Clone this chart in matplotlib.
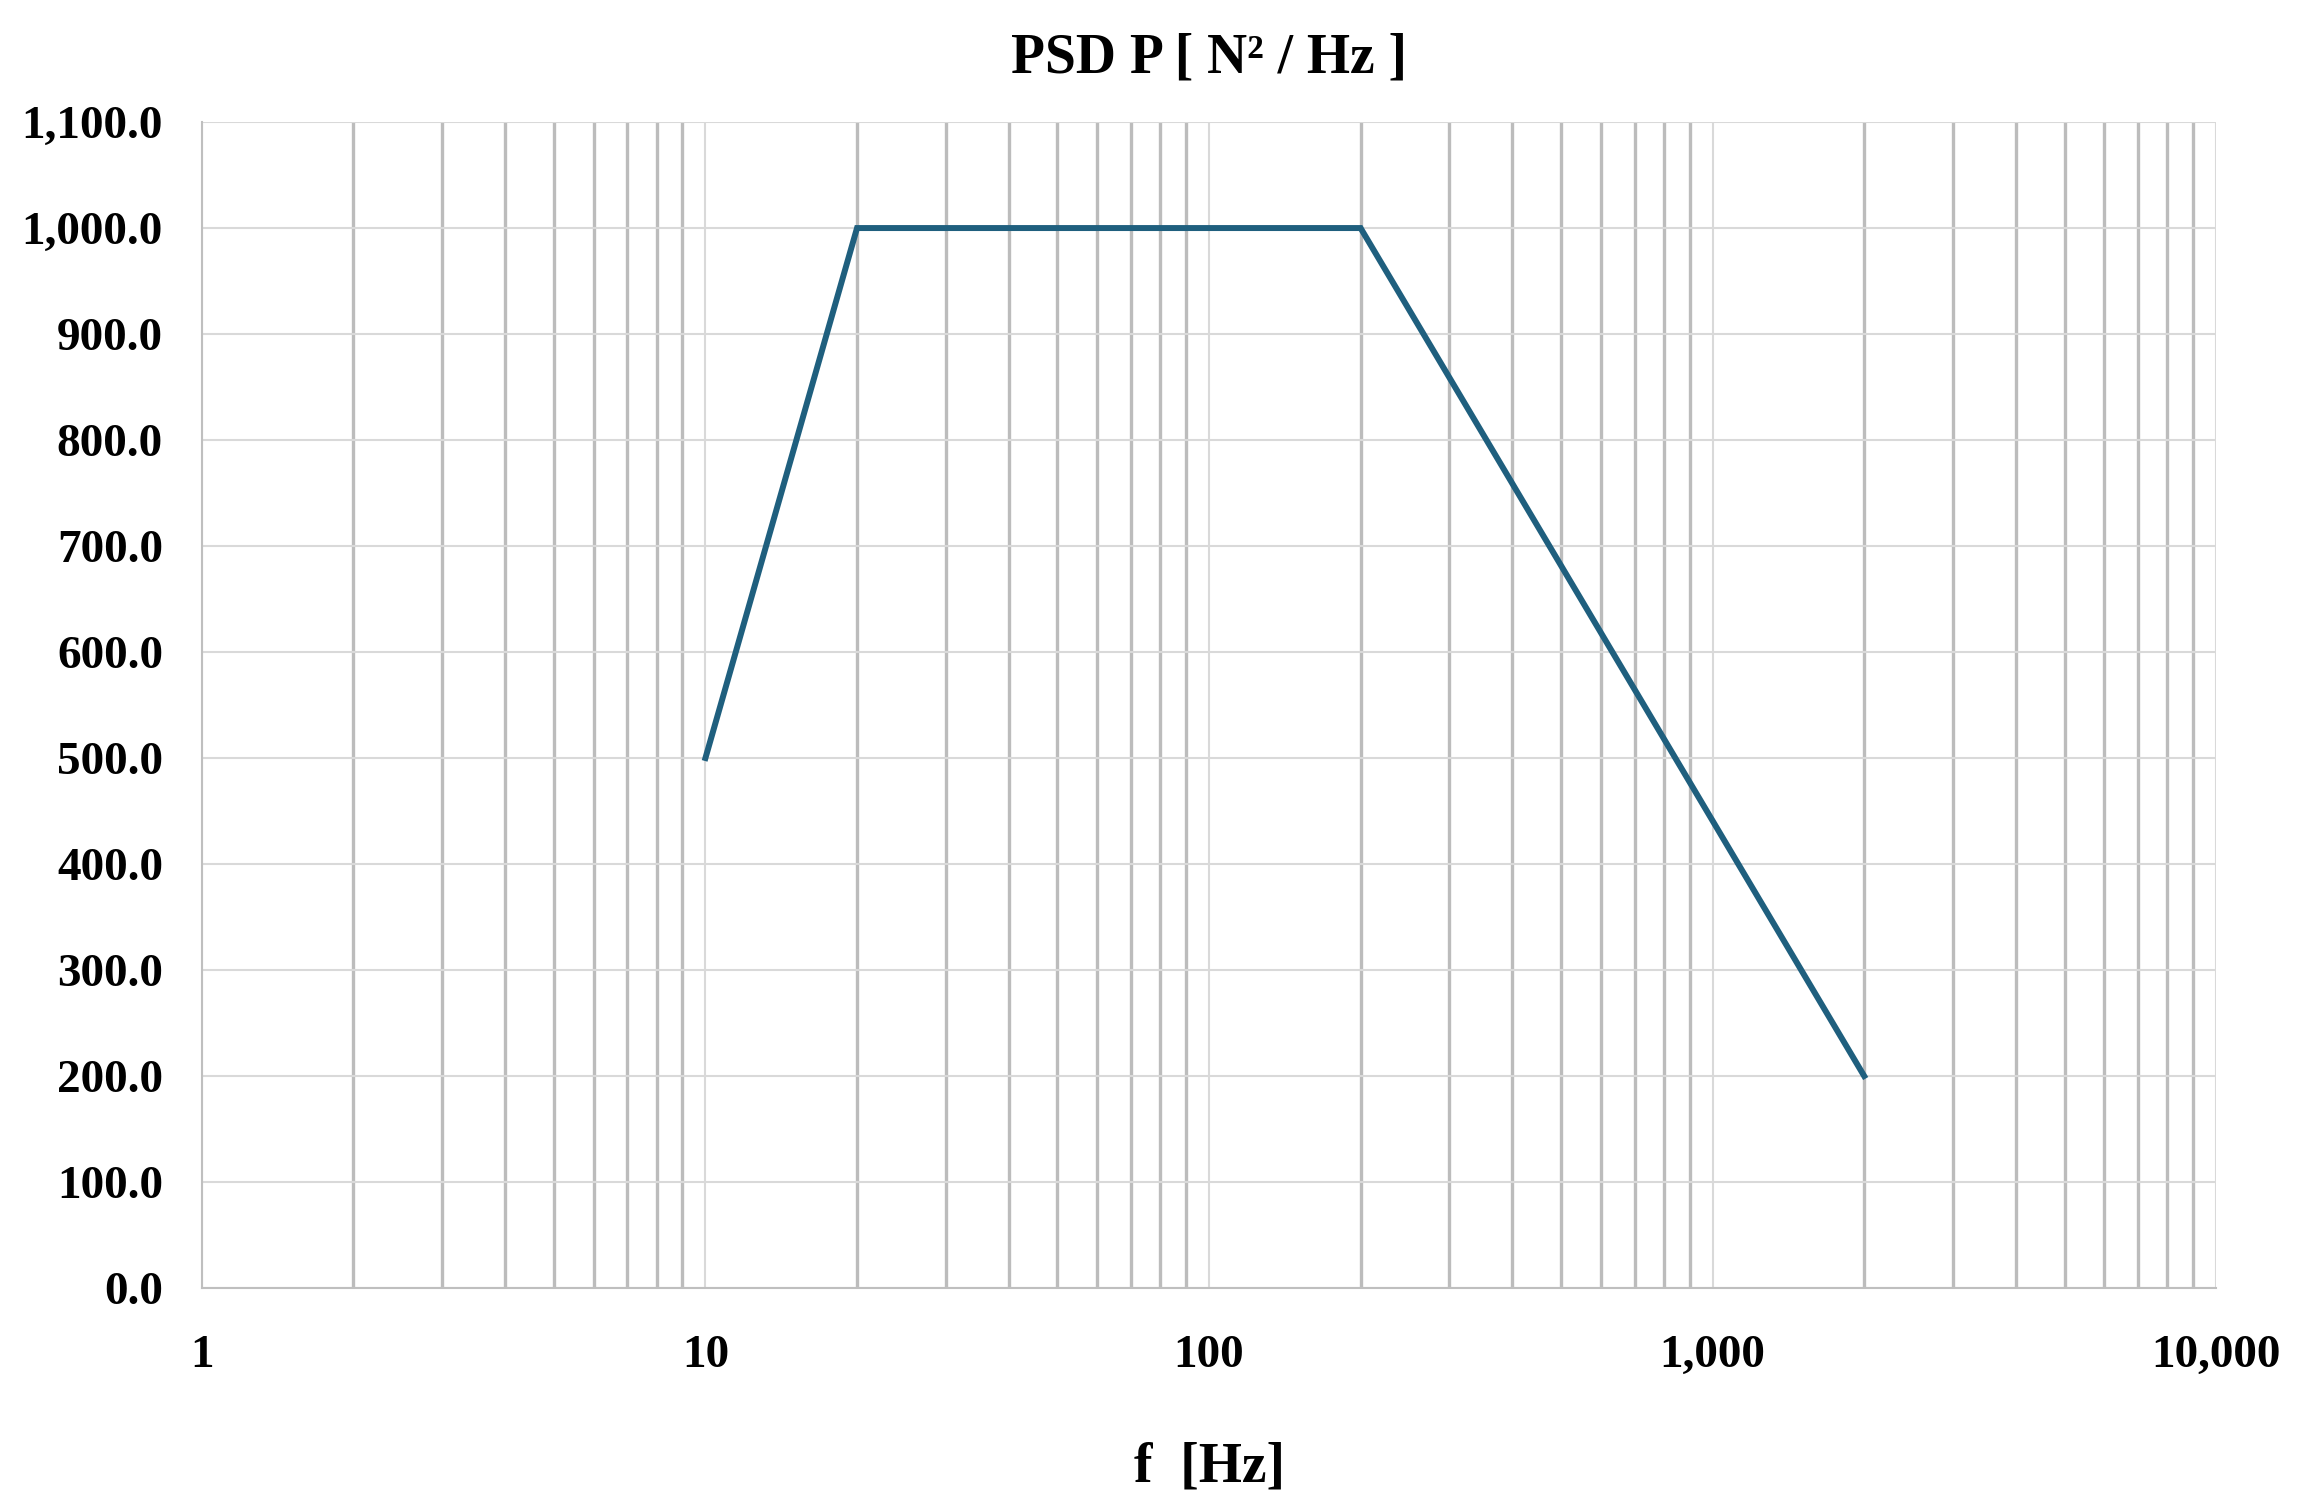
import numpy as np
import matplotlib
matplotlib.use('Agg')
import matplotlib.pyplot as plt
from matplotlib.ticker import FuncFormatter, LogLocator, FixedLocator

# PSD profile breakpoints
freq_hz = [10, 20, 200, 2000]
psd_values = [500.0, 1000.0, 1000.0, 200.0]

y_ticks = [0, 100, 200, 300, 400, 500, 600, 700, 800, 900, 1000, 1100]
x_ticks = [1, 10, 100, 1000, 10000]

plt.rcParams['font.family'] = ['Liberation Serif', 'DejaVu Serif']
plt.rcParams['font.weight'] = 'bold'

fig = plt.figure(figsize=(23.02, 15.05), dpi=100)
ax = fig.add_axes([0.0877, 0.1442, 0.875, 0.7747])

ax.plot(freq_hz, psd_values, color='#1f5f7e', linewidth=4.3,
        solid_joinstyle='miter', zorder=3)

ax.set_xscale('log')
ax.set_xlim(1, 10000)
ax.set_ylim(0, 1100)

ax.xaxis.set_major_locator(FixedLocator(x_ticks))
ax.xaxis.set_minor_locator(LogLocator(base=10, subs=np.arange(2, 10)))
ax.yaxis.set_major_locator(FixedLocator(y_ticks))

ax.xaxis.set_major_formatter(FuncFormatter(lambda v, p: '{:,.0f}'.format(v)))
ax.xaxis.set_minor_formatter(FuncFormatter(lambda v, p: ''))
ax.yaxis.set_major_formatter(FuncFormatter(lambda v, p: '{:,.1f}'.format(v)))

# Excel style grid: minor lines darker than major
ax.grid(which='major', axis='both', color='#d9d9d9', linewidth=1.5, zorder=1)
ax.grid(which='minor', axis='x', color='#bcbcbc', linewidth=2.4, zorder=1)

for side in ['top', 'right']:
    ax.spines[side].set_visible(False)
for side in ['left', 'bottom']:
    ax.spines[side].set_color('#bfbfbf')
    ax.spines[side].set_linewidth(1.5)

ax.tick_params(which='both', length=0)
ax.tick_params(axis='y', labelsize=34, pad=28)
ax.tick_params(axis='x', labelsize=34, pad=34)
for lbl in ax.get_xticklabels() + ax.get_yticklabels():
    lbl.set_fontweight('bold')

ax.set_title('PSD P [ N\u00b2 / Hz ]', fontsize=40, fontweight='bold', pad=36)
ax.set_xlabel('f  [Hz]', fontsize=40, fontweight='bold', labelpad=46)

fig.savefig('out.png', dpi=100)
